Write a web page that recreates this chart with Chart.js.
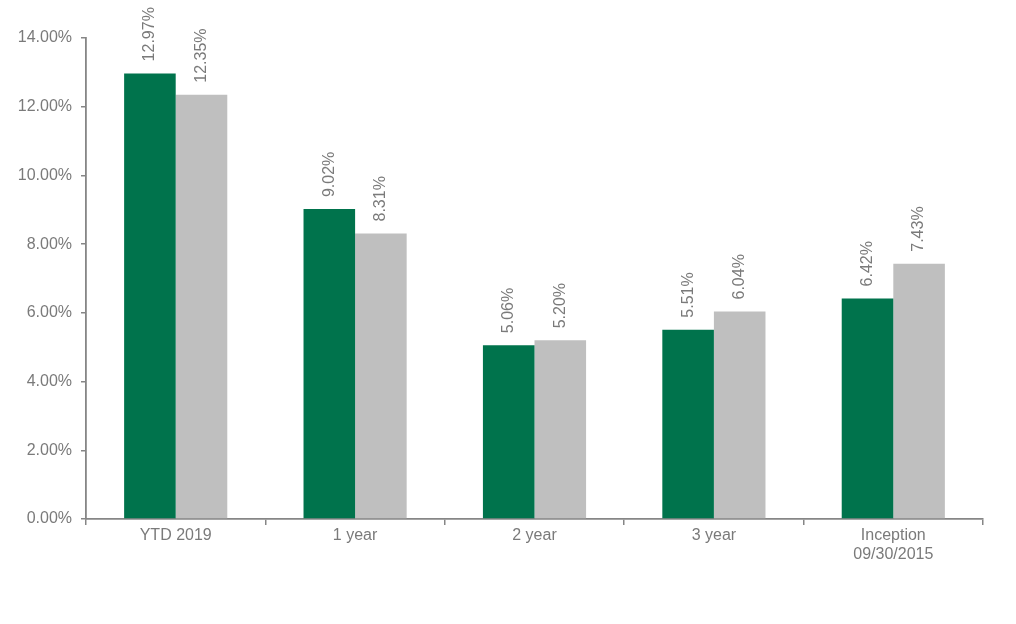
<!DOCTYPE html>
<html>
<head>
<meta charset="utf-8">
<script src="https://cdn.jsdelivr.net/npm/chart.js@4"></script>
<style>
  html, body { margin: 0; padding: 0; background: #fff; }
  #wrap { width: 1016px; height: 624px; }
</style>
</head>
<body>
<div id="wrap"><canvas id="chart"></canvas></div>
<script>
const categories = ["YTD 2019", "1 year", "2 year", "3 year", ["Inception", "09/30/2015"]];
const fundReturns = [12.97, 9.02, 5.06, 5.51, 6.42];
const benchReturns = [12.35, 8.31, 5.20, 6.04, 7.43];
const yMax = 14;
const yStep = 2;

const axisColor = "#868686";
const textColor = "#7a7a7a";
const font = { family: "'Liberation Sans', Arial, sans-serif", size: 16 };

// rotated value labels above each bar
const barLabels = {
  id: "barLabels",
  afterDatasetsDraw(chart) {
    const ctx = chart.ctx;
    ctx.save();
    ctx.fillStyle = textColor;
    ctx.font = `${font.size}px ${font.family}`;
    ctx.textAlign = "left";
    ctx.textBaseline = "middle";
    chart.data.datasets.forEach((ds, i) => {
      chart.getDatasetMeta(i).data.forEach((bar, j) => {
        ctx.save();
        ctx.translate(bar.x, bar.y - 12);
        ctx.rotate(-Math.PI / 2);
        ctx.fillText(ds.data[j].toFixed(2) + "%", 0, 0);
        ctx.restore();
      });
    });
    ctx.restore();
  }
};

new Chart(document.getElementById("chart"), {
  type: "bar",
  data: {
    labels: categories,
    datasets: [
      { data: fundReturns, backgroundColor: "#00734c" },
      { data: benchReturns, backgroundColor: "#bfbfbf" }
    ]
  },
  plugins: [barLabels],
  options: {
    responsive: true,
    maintainAspectRatio: false,
    animation: false,
    layout: { padding: { top: 38, right: 33, left: 0, bottom: 0 } },
    datasets: { bar: { categoryPercentage: 0.575, barPercentage: 1 } },
    plugins: { legend: { display: false }, tooltip: { enabled: false } },
    scales: {
      x: {
        grid: { offset: true, drawOnChartArea: false, drawTicks: true, tickLength: 6, color: axisColor, lineWidth: 1.5 },
        border: { color: axisColor, width: 1.8 },
        ticks: { color: textColor, font: font, padding: 1, maxRotation: 0 },
        afterFit(scale) { scale.height = 105; }
      },
      y: {
        min: 0,
        max: yMax,
        grid: { drawOnChartArea: false, drawTicks: true, tickLength: 5, color: axisColor, lineWidth: 1.5 },
        border: { color: axisColor, width: 1.8 },
        ticks: { stepSize: yStep, color: textColor, font: font, padding: 9, callback: v => v.toFixed(2) + "%" },
        afterFit(scale) { scale.width = 86; }
      }
    }
  }
});
</script>
</body>
</html>
